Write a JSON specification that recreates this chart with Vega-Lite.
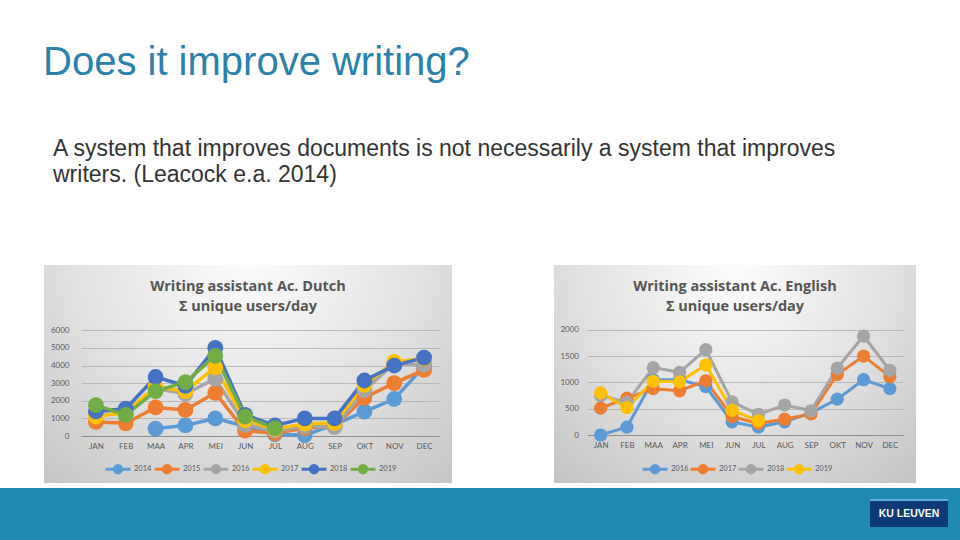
{
  "$schema": "https://vega.github.io/schema/vega-lite/v6.json",
  "padding": 0,
  "background": "white",
  "config": {"view": {"stroke": null}},
  "datasets": {
    "dutch": [
      {"year": "2014", "month": "MAA", "m": 3, "users": 420},
      {"year": "2014", "month": "APR", "m": 4, "users": 600},
      {"year": "2014", "month": "MEI", "m": 5, "users": 1000},
      {"year": "2014", "month": "JUN", "m": 6, "users": 550},
      {"year": "2014", "month": "JUL", "m": 7, "users": 100},
      {"year": "2014", "month": "AUG", "m": 8, "users": 50},
      {"year": "2014", "month": "SEP", "m": 9, "users": 650},
      {"year": "2014", "month": "OKT", "m": 10, "users": 1380},
      {"year": "2014", "month": "NOV", "m": 11, "users": 2100},
      {"year": "2014", "month": "DEC", "m": 12, "users": 3950},
      {"year": "2015", "month": "JAN", "m": 1, "users": 800},
      {"year": "2015", "month": "FEB", "m": 2, "users": 720},
      {"year": "2015", "month": "MAA", "m": 3, "users": 1620},
      {"year": "2015", "month": "APR", "m": 4, "users": 1480},
      {"year": "2015", "month": "MEI", "m": 5, "users": 2450},
      {"year": "2015", "month": "JUN", "m": 6, "users": 300},
      {"year": "2015", "month": "JUL", "m": 7, "users": 150},
      {"year": "2015", "month": "AUG", "m": 8, "users": 450},
      {"year": "2015", "month": "SEP", "m": 9, "users": 550},
      {"year": "2015", "month": "OKT", "m": 10, "users": 2170},
      {"year": "2015", "month": "NOV", "m": 11, "users": 3000},
      {"year": "2015", "month": "DEC", "m": 12, "users": 3750},
      {"year": "2016", "month": "JAN", "m": 1, "users": 1200},
      {"year": "2016", "month": "FEB", "m": 2, "users": 1300},
      {"year": "2016", "month": "MAA", "m": 3, "users": 2700},
      {"year": "2016", "month": "APR", "m": 4, "users": 2400},
      {"year": "2016", "month": "MEI", "m": 5, "users": 3250},
      {"year": "2016", "month": "JUN", "m": 6, "users": 650},
      {"year": "2016", "month": "JUL", "m": 7, "users": 300},
      {"year": "2016", "month": "AUG", "m": 8, "users": 550},
      {"year": "2016", "month": "SEP", "m": 9, "users": 500},
      {"year": "2016", "month": "OKT", "m": 10, "users": 2600},
      {"year": "2016", "month": "NOV", "m": 11, "users": 4100},
      {"year": "2016", "month": "DEC", "m": 12, "users": 4050},
      {"year": "2017", "month": "JAN", "m": 1, "users": 1100},
      {"year": "2017", "month": "FEB", "m": 2, "users": 1350},
      {"year": "2017", "month": "MAA", "m": 3, "users": 2800},
      {"year": "2017", "month": "APR", "m": 4, "users": 2550},
      {"year": "2017", "month": "MEI", "m": 5, "users": 3900},
      {"year": "2017", "month": "JUN", "m": 6, "users": 900},
      {"year": "2017", "month": "JUL", "m": 7, "users": 400},
      {"year": "2017", "month": "AUG", "m": 8, "users": 700},
      {"year": "2017", "month": "SEP", "m": 9, "users": 750},
      {"year": "2017", "month": "OKT", "m": 10, "users": 2900},
      {"year": "2017", "month": "NOV", "m": 11, "users": 4200},
      {"year": "2017", "month": "DEC", "m": 12, "users": 4400},
      {"year": "2018", "month": "JAN", "m": 1, "users": 1400},
      {"year": "2018", "month": "FEB", "m": 2, "users": 1550},
      {"year": "2018", "month": "MAA", "m": 3, "users": 3350},
      {"year": "2018", "month": "APR", "m": 4, "users": 2850},
      {"year": "2018", "month": "MEI", "m": 5, "users": 5000},
      {"year": "2018", "month": "JUN", "m": 6, "users": 1200},
      {"year": "2018", "month": "JUL", "m": 7, "users": 600},
      {"year": "2018", "month": "AUG", "m": 8, "users": 1000},
      {"year": "2018", "month": "SEP", "m": 9, "users": 1000},
      {"year": "2018", "month": "OKT", "m": 10, "users": 3150},
      {"year": "2018", "month": "NOV", "m": 11, "users": 4000},
      {"year": "2018", "month": "DEC", "m": 12, "users": 4450},
      {"year": "2019", "month": "JAN", "m": 1, "users": 1750},
      {"year": "2019", "month": "FEB", "m": 2, "users": 1200},
      {"year": "2019", "month": "MAA", "m": 3, "users": 2550},
      {"year": "2019", "month": "APR", "m": 4, "users": 3050},
      {"year": "2019", "month": "MEI", "m": 5, "users": 4550},
      {"year": "2019", "month": "JUN", "m": 6, "users": 1100},
      {"year": "2019", "month": "JUL", "m": 7, "users": 450}
    ],
    "english": [
      {"year": "2016", "month": "JAN", "m": 1, "users": 0},
      {"year": "2016", "month": "FEB", "m": 2, "users": 150},
      {"year": "2016", "month": "MAA", "m": 3, "users": 1050},
      {"year": "2016", "month": "APR", "m": 4, "users": 1050},
      {"year": "2016", "month": "MEI", "m": 5, "users": 920},
      {"year": "2016", "month": "JUN", "m": 6, "users": 250},
      {"year": "2016", "month": "JUL", "m": 7, "users": 150},
      {"year": "2016", "month": "AUG", "m": 8, "users": 250},
      {"year": "2016", "month": "SEP", "m": 9, "users": 420},
      {"year": "2016", "month": "OKT", "m": 10, "users": 680},
      {"year": "2016", "month": "NOV", "m": 11, "users": 1050},
      {"year": "2016", "month": "DEC", "m": 12, "users": 880},
      {"year": "2017", "month": "JAN", "m": 1, "users": 510},
      {"year": "2017", "month": "FEB", "m": 2, "users": 700},
      {"year": "2017", "month": "MAA", "m": 3, "users": 880},
      {"year": "2017", "month": "APR", "m": 4, "users": 840},
      {"year": "2017", "month": "MEI", "m": 5, "users": 1030},
      {"year": "2017", "month": "JUN", "m": 6, "users": 350},
      {"year": "2017", "month": "JUL", "m": 7, "users": 220},
      {"year": "2017", "month": "AUG", "m": 8, "users": 300},
      {"year": "2017", "month": "SEP", "m": 9, "users": 400},
      {"year": "2017", "month": "OKT", "m": 10, "users": 1150},
      {"year": "2017", "month": "NOV", "m": 11, "users": 1500},
      {"year": "2017", "month": "DEC", "m": 12, "users": 1110},
      {"year": "2018", "month": "JAN", "m": 1, "users": 750},
      {"year": "2018", "month": "FEB", "m": 2, "users": 620},
      {"year": "2018", "month": "MAA", "m": 3, "users": 1280},
      {"year": "2018", "month": "APR", "m": 4, "users": 1190},
      {"year": "2018", "month": "MEI", "m": 5, "users": 1620},
      {"year": "2018", "month": "JUN", "m": 6, "users": 630},
      {"year": "2018", "month": "JUL", "m": 7, "users": 390},
      {"year": "2018", "month": "AUG", "m": 8, "users": 570},
      {"year": "2018", "month": "SEP", "m": 9, "users": 460},
      {"year": "2018", "month": "OKT", "m": 10, "users": 1270},
      {"year": "2018", "month": "NOV", "m": 11, "users": 1880},
      {"year": "2018", "month": "DEC", "m": 12, "users": 1230},
      {"year": "2019", "month": "JAN", "m": 1, "users": 800},
      {"year": "2019", "month": "FEB", "m": 2, "users": 520},
      {"year": "2019", "month": "MAA", "m": 3, "users": 1020},
      {"year": "2019", "month": "APR", "m": 4, "users": 1010},
      {"year": "2019", "month": "MEI", "m": 5, "users": 1330},
      {"year": "2019", "month": "JUN", "m": 6, "users": 470},
      {"year": "2019", "month": "JUL", "m": 7, "users": 270}
    ]
  },
  "spacing": 5,
  "vconcat": [
    {
      "vconcat": [
        {
          "width": 960, "height": 110,
          "data": {"values": []},
          "mark": "point",
          "title": {"text": "Does it improve writing?", "orient": "bottom", "anchor": "start", "frame": "group", "offset": -67, "dx": 43, "baseline": "top", "fontSize": 40, "font": "Liberation Sans", "fontWeight": "normal", "color": "#2a82ab"}
        },
        {
          "width": 960, "height": 150,
          "data": {"values": []},
          "mark": "point",
          "title": {"text": ["A system that improves documents is not necessarily a system that improves", "writers. (Leacock e.a. 2014)"], "orient": "bottom", "anchor": "start", "frame": "group", "offset": -122, "dx": 53, "baseline": "top", "fontSize": 23, "lineHeight": 26, "font": "Liberation Sans", "fontWeight": "normal", "color": "#333333"}
        }
      ],
      "spacing": 0
    },
    {
      "hconcat": [
        {
          "hconcat": [
            {"width": 44, "height": 218, "data": {"values": []}, "mark": "point"},
            {
              "width": 408, "height": 218,
              "view": {"fill": {"gradient": "radial", "x1": 0.5, "y1": 0.2, "r1": 0, "x2": 0.5, "y2": 0.2, "r2": 0.8, "stops": [{"offset": 0, "color": "#fdfdfd"}, {"offset": 0.55, "color": "#e0e0e0"}, {"offset": 1, "color": "#c2c2c2"}]}},
              "title": {"text": ["Writing assistant Ac. Dutch", "Σ unique users/day"], "orient": "bottom", "anchor": "middle", "frame": "group", "offset": -203, "baseline": "top", "fontSize": 14.5, "lineHeight": 20, "font": "Open Sans", "fontWeight": "bold", "color": "#555555"},
              "data": {"name": "dutch"},
              "encoding": {
                "x": {"field": "month", "type": "ordinal", "scale": {"type": "point", "domain": ["JAN","FEB","MAA","APR","MEI","JUN","JUL","AUG","SEP","OKT","NOV","DEC"], "range": [37, 395], "padding": 0.5},
                  "axis": {"title": null, "orient": "bottom", "offset": -47, "labelAngle": 0, "ticks": false, "tickSize": 0, "labelPadding": 6, "labelFontSize": 8, "labelFont": "Lato", "labelColor": "#595959", "domainColor": "#8c8c8c", "domainWidth": 1, "grid": false}},
                "y": {"field": "users", "type": "quantitative", "scale": {"domain": [0, 6000], "range": [171, 65.3], "nice": false, "zero": true},
                  "axis": {"title": null, "orient": "left", "offset": -37, "values": [0, 1000, 2000, 3000, 4000, 5000, 6000], "format": "d", "ticks": false, "tickSize": 0, "domain": false, "labelPadding": 12, "labelFontSize": 8, "labelFont": "Lato", "labelColor": "#595959", "grid": true, "gridColor": "#b8b8b8", "gridWidth": 1}},
                "color": {"field": "year", "type": "nominal", "scale": {"domain": ["2014","2015","2016","2017","2018","2019"], "range": ["#5B9BD5","#ED7D31","#A5A5A5","#FFC000","#4472C4","#70AD47"]},
                  "legend": {"title": null, "orient": "none", "legendX": 104, "legendY": 190, "direction": "horizontal", "columns": 6, "padding": 0, "symbolType": "M-1,0L1,0M0.3,0A0.3,0.3,0,1,1,-0.3,0A0.3,0.3,0,1,1,0.3,0M0.15,0A0.15,0.15,0,1,1,-0.15,0A0.15,0.15,0,1,1,0.15,0", "symbolSize": 625, "symbolStrokeWidth": 3, "symbolOpacity": 1, "labelFontSize": 7.5, "labelFont": "Lato", "labelColor": "#595959", "labelOffset": 2, "columnPadding": -4}}
              },
              "layer": [
                {"mark": {"type": "line", "strokeWidth": 3.5}, "encoding": {"order": {"field": "m", "type": "quantitative"}}},
                {"mark": {"type": "circle", "size": 250, "opacity": 1}}
              ]
            }
          ],
          "spacing": 0
        },
        {
          "width": 362, "height": 218,
          "view": {"fill": {"gradient": "radial", "x1": 0.5, "y1": 0.2, "r1": 0, "x2": 0.5, "y2": 0.2, "r2": 0.8, "stops": [{"offset": 0, "color": "#fdfdfd"}, {"offset": 0.55, "color": "#e0e0e0"}, {"offset": 1, "color": "#c2c2c2"}]}},
          "title": {"text": ["Writing assistant Ac. English", "Σ unique users/day"], "orient": "bottom", "anchor": "middle", "frame": "group", "offset": -203, "baseline": "top", "fontSize": 14.5, "lineHeight": 20, "font": "Open Sans", "fontWeight": "bold", "color": "#555555"},
          "data": {"name": "english"},
          "encoding": {
            "x": {"field": "month", "type": "ordinal", "scale": {"type": "point", "domain": ["JAN","FEB","MAA","APR","MEI","JUN","JUL","AUG","SEP","OKT","NOV","DEC"], "range": [33.5, 349], "padding": 0.5},
              "axis": {"title": null, "orient": "bottom", "offset": -48, "labelAngle": 0, "ticks": false, "tickSize": 0, "labelPadding": 6, "labelFontSize": 8, "labelFont": "Lato", "labelColor": "#595959", "domainColor": "#8c8c8c", "domainWidth": 1, "grid": false}},
            "y": {"field": "users", "type": "quantitative", "scale": {"domain": [0, 2000], "range": [170, 64.7], "nice": false, "zero": true},
              "axis": {"title": null, "orient": "left", "offset": -33.5, "values": [0, 500, 1000, 1500, 2000], "format": "d", "ticks": false, "tickSize": 0, "domain": false, "labelPadding": 9, "labelFontSize": 8, "labelFont": "Lato", "labelColor": "#595959", "grid": true, "gridColor": "#b8b8b8", "gridWidth": 1}},
            "color": {"field": "year", "type": "nominal", "scale": {"domain": ["2016","2017","2018","2019"], "range": ["#5B9BD5","#ED7D31","#A5A5A5","#FFC000"]},
              "legend": {"title": null, "orient": "none", "legendX": 87, "legendY": 190, "direction": "horizontal", "columns": 4, "padding": 0, "symbolType": "M-1,0L1,0M0.3,0A0.3,0.3,0,1,1,-0.3,0A0.3,0.3,0,1,1,0.3,0M0.15,0A0.15,0.15,0,1,1,-0.15,0A0.15,0.15,0,1,1,0.15,0", "symbolSize": 625, "symbolStrokeWidth": 3, "symbolOpacity": 1, "labelFontSize": 7.5, "labelFont": "Lato", "labelColor": "#595959", "labelOffset": 2, "columnPadding": -6}}
          },
          "layer": [
            {"mark": {"type": "line", "strokeWidth": 3}, "encoding": {"order": {"field": "m", "type": "quantitative"}}},
            {"mark": {"type": "circle", "size": 175, "opacity": 1}}
          ]
        }
      ],
      "spacing": 102,
      "resolve": {"scale": {"color": "independent"}, "legend": {"color": "independent"}}
    },
    {
      "hconcat": [
        {"width": 870, "height": 52, "view": {"fill": "#1f8bb0"}, "data": {"values": []}, "mark": "point"},
        {
          "vconcat": [
            {"width": 78, "height": 11, "view": {"fill": "#1f8bb0"}, "data": {"values": []}, "mark": "point"},
            {"width": 78, "height": 2, "view": {"fill": "#5eaee3"}, "data": {"values": []}, "mark": "point"},
            {"width": 78, "height": 26, "view": {"fill": "#0c3b77"},
             "data": {"values": [{"t": "KU LEUVEN"}]},
             "mark": {"type": "text", "color": "white", "fontWeight": "bold", "fontSize": 10.5, "font": "Liberation Sans"},
             "encoding": {"text": {"field": "t", "type": "nominal"}}},
            {"width": 78, "height": 13, "view": {"fill": "#1f8bb0"}, "data": {"values": []}, "mark": "point"}
          ],
          "spacing": 0
        },
        {"width": 12, "height": 52, "view": {"fill": "#1f8bb0"}, "data": {"values": []}, "mark": "point"}
      ],
      "spacing": 0
    }
  ]
}
